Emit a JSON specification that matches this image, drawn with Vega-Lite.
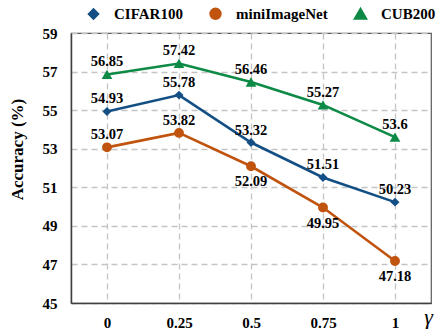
{
  "$schema": "https://vega.github.io/schema/vega-lite/v6.json",
  "autosize": "none",
  "width": 360,
  "height": 270,
  "padding": {"left": 71, "top": 33, "right": 5, "bottom": 28},
  "background": "white",
  "config": {
    "view": {"stroke": "#5a5a5a", "strokeWidth": 1.2},
    "font": "Liberation Serif, Tinos, Nimbus Roman, DejaVu Serif Condensed, DejaVu Serif, serif",
    "axis": {
      "labelFont": "Liberation Serif, Tinos, Nimbus Roman, DejaVu Serif Condensed, DejaVu Serif, serif",
      "titleFont": "Liberation Serif, Tinos, Nimbus Roman, DejaVu Serif Condensed, DejaVu Serif, serif",
      "labelFontWeight": "bold",
      "labelFontSize": 15,
      "labelColor": "black",
      "ticks": false,
      "tickSize": 0,
      "domainColor": "#404040",
      "domainWidth": 1.5,
      "gridColor": "#c4c4c4",
      "gridDash": [6, 4],
      "gridWidth": 1.3
    },
    "legend": {"labelFont": "Liberation Serif, Tinos, Nimbus Roman, DejaVu Serif Condensed, DejaVu Serif, serif"}
  },
  "data": {
    "values": [
      {"gamma": "0", "series": "CIFAR100", "acc": 54.93, "side": "above"},
      {"gamma": "0.25", "series": "CIFAR100", "acc": 55.78, "side": "above"},
      {"gamma": "0.5", "series": "CIFAR100", "acc": 53.32, "side": "above"},
      {"gamma": "0.75", "series": "CIFAR100", "acc": 51.51, "side": "above"},
      {"gamma": "1", "series": "CIFAR100", "acc": 50.23, "side": "above"},
      {"gamma": "0", "series": "miniImageNet", "acc": 53.07, "side": "above"},
      {"gamma": "0.25", "series": "miniImageNet", "acc": 53.82, "side": "above"},
      {"gamma": "0.5", "series": "miniImageNet", "acc": 52.09, "side": "below"},
      {"gamma": "0.75", "series": "miniImageNet", "acc": 49.95, "side": "below"},
      {"gamma": "1", "series": "miniImageNet", "acc": 47.18, "side": "below"},
      {"gamma": "0", "series": "CUB200", "acc": 56.85, "side": "above"},
      {"gamma": "0.25", "series": "CUB200", "acc": 57.42, "side": "above"},
      {"gamma": "0.5", "series": "CUB200", "acc": 56.46, "side": "above"},
      {"gamma": "0.75", "series": "CUB200", "acc": 55.27, "side": "above"},
      {"gamma": "1", "series": "CUB200", "acc": 53.6, "side": "above"}
    ]
  },
  "encoding": {
    "x": {
      "field": "gamma",
      "type": "ordinal",
      "sort": ["0", "0.25", "0.5", "0.75", "1"],
      "scale": {"type": "point", "padding": 0.5},
      "axis": {
        "orient": "bottom",
        "labelAngle": 0,
        "labelPadding": 12,
        "grid": true,
        "title": "γ",
        "titleFontStyle": "italic",
        "titleFontWeight": "normal",
        "titleFontSize": 22,
        "titleColor": "black",
        "titleX": 357,
        "titleY": 20,
        "titleBaseline": "alphabetic",
        "titleAlign": "center"
      }
    },
    "y": {
      "field": "acc",
      "type": "quantitative",
      "scale": {"domain": [45, 59], "nice": false, "zero": false},
      "axis": {
        "values": [45, 47, 49, 51, 53, 55, 57, 59],
        "labelPadding": 14,
        "grid": true,
        "title": "Accuracy (%)",
        "titleFontWeight": "bold",
        "titleFontSize": 17,
        "titleColor": "black",
        "titleX": -54,
        "titleY": 116,
        "titleBaseline": "middle",
        "titleAlign": "center"
      }
    },
    "color": {
      "field": "series",
      "type": "nominal",
      "scale": {
        "domain": ["CIFAR100", "miniImageNet", "CUB200"],
        "range": ["#134f85", "#c0540f", "#0d8a45"]
      },
      "legend": {
        "orient": "none",
        "legendX": 15,
        "legendY": -27,
        "direction": "horizontal",
        "title": null,
        "symbolSize": 100,
        "symbolStrokeWidth": 2.5,
        "labelOffset": 13,
        "columnPadding": 22,
        "labelFontWeight": "bold",
        "labelFontSize": 15,
        "labelColor": "black"
      }
    }
  },
  "layer": [
    {
      "mark": {"type": "line", "strokeWidth": 2.6}
    },
    {
      "mark": {"type": "point", "filled": true, "opacity": 1},
      "encoding": {
        "shape": {
          "field": "series",
          "type": "nominal",
          "scale": {
            "domain": ["CIFAR100", "miniImageNet", "CUB200"],
            "range": ["diamond", "circle", "triangle-up"]
          },
          "legend": null
        },
        "size": {
          "field": "series",
          "type": "nominal",
          "scale": {
            "domain": ["CIFAR100", "miniImageNet", "CUB200"],
            "range": [80, 115, 95]
          },
          "legend": null
        }
      }
    },
    {
      "transform": [{"filter": "datum.side === 'above'"}],
      "mark": {"type": "text", "dy": -12, "fontWeight": "bold", "fontSize": 14.5, "baseline": "middle"},
      "encoding": {"text": {"field": "acc", "type": "quantitative"}, "color": {"value": "black"}}
    },
    {
      "transform": [{"filter": "datum.side === 'below'"}],
      "mark": {"type": "text", "dy": 16, "fontWeight": "bold", "fontSize": 14.5, "baseline": "middle"},
      "encoding": {"text": {"field": "acc", "type": "quantitative"}, "color": {"value": "black"}}
    }
  ]
}
